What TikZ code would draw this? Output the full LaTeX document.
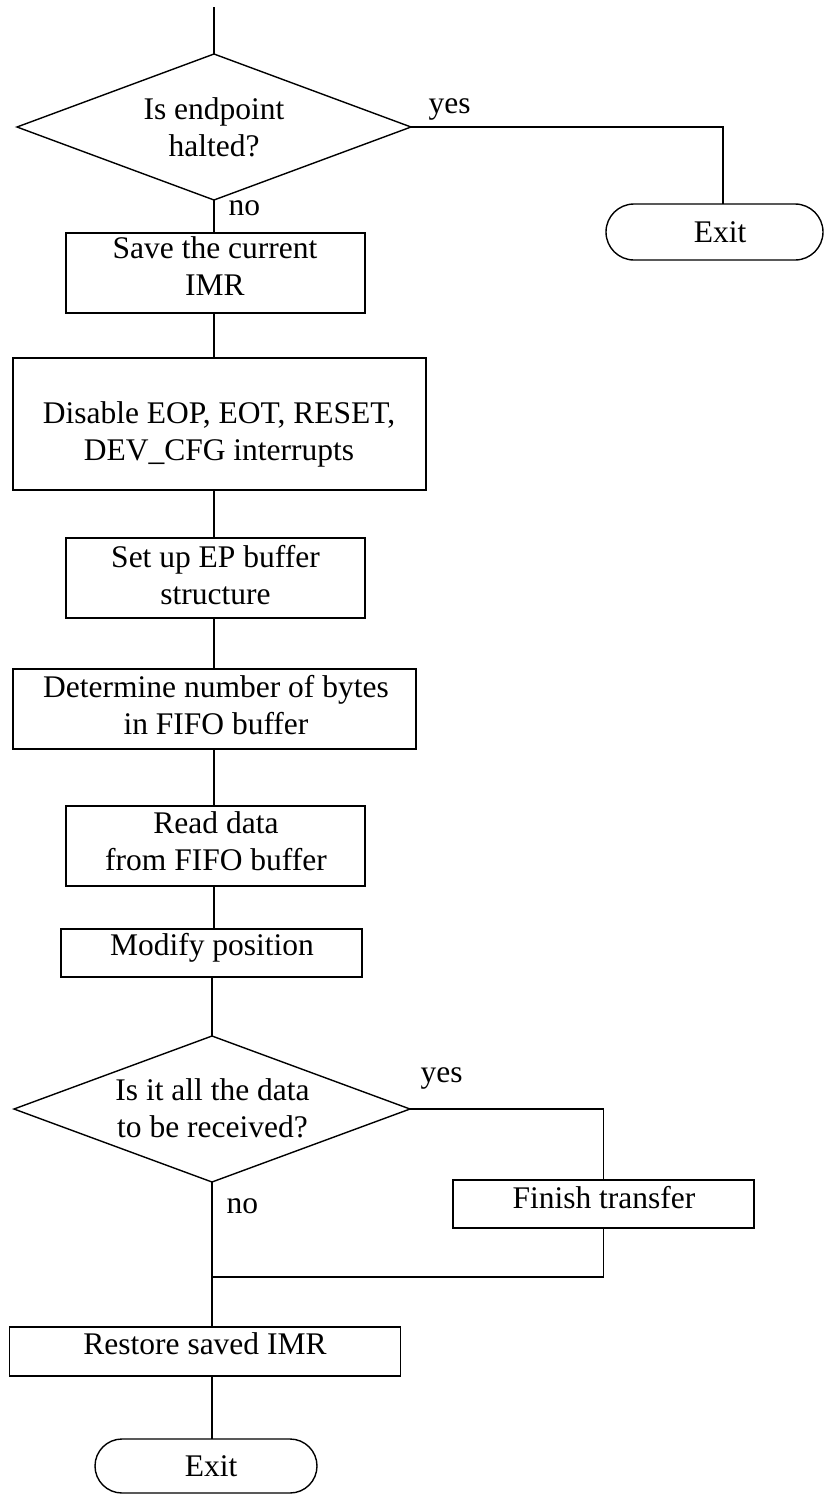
\documentclass[tikz,border=0pt]{standalone}
\usepackage{fontspec}
\setmainfont{Liberation Serif}
\usetikzlibrary{shapes.geometric,shapes.misc}
\newcommand{\mlines}[1]{\begin{tabular}[t]{@{}c@{}}#1\end{tabular}}
\begin{document}
\begin{tikzpicture}[x=1pt,y=-1pt,line width=1.4pt,
  every node/.style={font=\fontsize{31.5}{37}\selectfont},
  box/.style={draw,rectangle,inner sep=0pt,outer sep=0pt},
  dec/.style={draw,diamond,inner sep=0pt,outer sep=0pt},
  term/.style={draw,rounded rectangle,inner sep=0pt,outer sep=0pt},
  txt/.style={anchor=base,inner sep=0pt},
  lbl/.style={anchor=base west,inner sep=0pt}]
\useasboundingbox (0,0) rectangle (824,1494);

% shapes
\coordinate (start) at (214,7);
\node[dec,minimum width=394pt,minimum height=146pt] (d1) at (214,127) {};
\coordinate (yesturn) at (723,127);
\node[term,minimum width=217pt,minimum height=56pt] (exit1) at (714.5,232) {};
\node[box,minimum width=299pt,minimum height=80pt] (s1) at (215.5,273) {};
\node[box,minimum width=413pt,minimum height=132pt] (s2) at (219.5,424) {};
\node[box,minimum width=299pt,minimum height=80pt] (s3) at (215.5,578) {};
\node[box,minimum width=403pt,minimum height=80pt] (s4) at (214.5,709) {};
\node[box,minimum width=299pt,minimum height=80pt] (s5) at (215.5,846) {};
\node[box,minimum width=301pt,minimum height=48pt] (s6) at (211.5,953) {};
\node[dec,minimum width=396pt,minimum height=146pt] (d2) at (212,1109) {};
\node[box,minimum width=301pt,minimum height=48pt] (fin) at (603.5,1204) {};
\node[box,minimum width=391pt,minimum height=49pt] (s7) at (205,1351.5) {};
\node[term,minimum width=222pt,minimum height=54pt] (exit2) at (206,1466) {};
\coordinate (colA) at (214,0);
\coordinate (colB) at (212,0);
\coordinate (merge) at (212,1277);

% texts
\node[txt] (d1t) at (214,119.3) {\mlines{Is endpoint\\halted?}};
\node[txt] (exit1t) at (720,242) {Exit};
\node[txt] (s1t) at (215,258) {\mlines{Save the current\\IMR}};
\node[txt] (s2t) at (219,423) {\mlines{Disable EOP, EOT, RESET,\\DEV\_CFG interrupts}};
\node[txt] (s3t) at (215.5,567) {\mlines{Set up EP buffer\\structure}};
\node[txt] (s4t) at (216,697) {\mlines{Determine number of bytes\\in FIFO buffer}};
\node[txt] (s5t) at (216,833) {\mlines{Read data\\from FIFO buffer}};
\node[txt] (s6t) at (212,955) {Modify position};
\node[txt] (d2t) at (212.5,1100) {\mlines{Is it all the data\\to be received?}};
\node[txt] (fint) at (604,1208) {Finish transfer};
\node[txt] (s7t) at (205,1354) {Restore saved IMR};
\node[txt] (exit2t) at (211,1476) {Exit};

% branch labels
\node[lbl] (yes1) at (428,113) {yes};
\node[lbl] (no1) at (228,215) {no};
\node[lbl] (yes2) at (420,1082) {yes};
\node[lbl] (no2) at (226,1213) {no};

% connectors
\draw (start) -- (d1.north);
\draw (d1.east) -- (yesturn) -- (yesturn |- exit1.north);
\draw (d1.south) -- (colA |- s1.north);
\draw (colA |- s1.south) -- (colA |- s2.north);
\draw (colA |- s2.south) -- (colA |- s3.north);
\draw (colA |- s3.south) -- (colA |- s4.north);
\draw (colA |- s4.south) -- (colA |- s5.north);
\draw (colA |- s5.south) -- (colA |- s6.north);
\draw (colB |- s6.south) -- (d2.north);
\draw (d2.east) -| (fin.north);
\draw (fin.south) |- (merge);
\draw (d2.south) -- (merge) -- (colB |- s7.north);
\draw (colB |- s7.south) -- (colB |- exit2.north);
\end{tikzpicture}
\end{document}
